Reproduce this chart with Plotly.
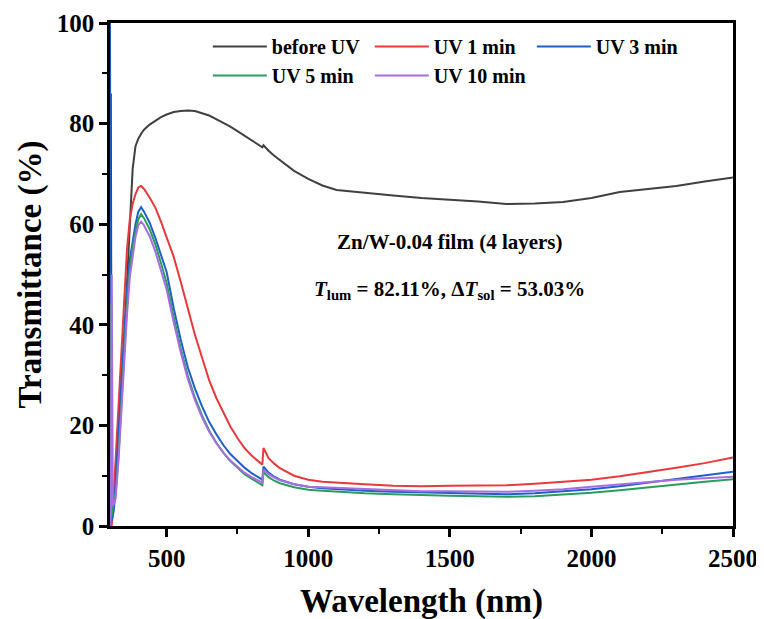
import plotly.graph_objects as go

wavelength = [300, 303, 306, 310, 315, 320, 330, 340, 350, 360, 370, 380, 390, 400, 410, 420,
              440, 460, 480, 500, 525, 550, 575, 600, 625, 650, 675, 700, 725, 750, 775, 800,
              825, 838, 842, 860, 880, 900, 950, 1000, 1050, 1100, 1200, 1300, 1400, 1500, 1600,
              1700, 1800, 1900, 2000, 2100, 2200, 2300, 2400, 2500]

before_uv = [2, 86, 3, 2, 5, 10, 19, 28, 37, 48, 60, 71, 75.5, 77, 78, 78.8,
             79.8, 80.6, 81.3, 81.8, 82.3, 82.5, 82.6, 82.5, 82.1, 81.6, 80.9, 80.2, 79.4, 78.5, 77.6, 76.7,
             75.9, 75.3, 75.7, 74.6, 73.6, 72.7, 70.6, 69.0, 67.7, 66.8, 66.2, 65.7, 65.2, 64.9, 64.5,
             64.0, 64.1, 64.4, 65.2, 66.4, 67.0, 67.6, 68.5, 69.3]

uv_1min = [0, 0, 0, 3, 8, 14, 24, 34, 45, 55, 61, 64, 66, 67.3, 67.6, 67.0,
           65.3, 63.3, 60.5, 57.5, 53.5, 48.5, 43.0, 38.0, 33.5, 29.0, 25.5, 22.5, 19.8, 17.5, 15.5, 14.0,
           12.7, 12.2, 15.5, 13.5, 12.4, 11.5, 10.0, 9.2, 8.8, 8.6, 8.3, 8.0, 7.9, 8.0, 8.0,
           8.1, 8.4, 8.8, 9.2, 9.9, 10.7, 11.6, 12.5, 13.6]

uv_3min = [100, 2, 1, 2, 4, 8, 18, 28, 38, 47, 53, 57, 60, 62.5, 63.4, 62.5,
           60.3, 57.3, 54.0, 50.5, 43.3, 37.0, 31.5, 27.3, 23.8, 20.7, 18.3, 16.1, 14.3, 12.9, 11.6, 10.5,
           9.6, 9.2, 11.8, 10.6, 9.8, 9.2, 8.3, 7.8, 7.5, 7.3, 7.0, 6.8, 6.7, 6.6, 6.4,
           6.3, 6.5, 6.9, 7.3, 7.9, 8.6, 9.3, 10.0, 10.8]

uv_5min = [0, 44, 2, 4, 5.5, 6.5, 14, 24, 34, 44, 51, 55.5, 58.5, 61, 62, 61.2,
           59.0, 56.0, 52.3, 48.3, 41.5, 35.3, 29.8, 25.5, 22.0, 19.0, 16.6, 14.6, 12.9, 11.5, 10.3, 9.4,
           8.5, 8.1, 10.7, 9.7, 9.0, 8.5, 7.7, 7.2, 7.0, 6.8, 6.5, 6.3, 6.1, 6.0, 5.9,
           5.8, 5.9, 6.2, 6.6, 7.1, 7.7, 8.3, 8.8, 9.3]

uv_10min = [0, 2, 50, 4, 4.5, 5.5, 13, 23, 33, 42, 49.5, 54, 57.5, 59.8, 60.5, 59.8,
            57.6, 54.6, 51.0, 47.0, 40.5, 34.5, 29.2, 25.0, 21.6, 18.8, 16.5, 14.6, 13.0, 11.7, 10.6, 9.7,
            8.9, 8.6, 11.2, 10.3, 9.6, 9.1, 8.3, 7.8, 7.7, 7.6, 7.3, 7.1, 6.9, 6.9, 6.8,
            6.8, 7.0, 7.3, 7.8, 8.3, 8.8, 9.2, 9.5, 9.8]

series = [
    ("before UV", before_uv, "#404040"),
    ("UV 1 min", uv_1min, "#e8393d"),
    ("UV 3 min", uv_3min, "#1f5fc9"),
    ("UV 5 min", uv_5min, "#2a9d5c"),
    ("UV 10 min", uv_10min, "#a66ee0"),
]

FONT = "Liberation Serif"

fig = go.Figure()
for name, vals, color in series:
    fig.add_trace(go.Scatter(x=wavelength, y=vals, mode="lines", name=name,
                             line=dict(color=color, width=2)))

fig.update_layout(
    width=764, height=619,
    paper_bgcolor="white", plot_bgcolor="white",
    margin=dict(l=102, r=39, t=15, b=101),
    font=dict(family=FONT, color="black"),
    showlegend=True,
    legend=dict(orientation="h", x=0.157, xanchor="left", y=0.992, yanchor="top",
                font=dict(family=FONT, size=20, weight="bold", color="black"),
                bgcolor="rgba(0,0,0,0)", entrywidth=93, entrywidthmode="pixels",
                itemwidth=54, tracegroupgap=0),
    annotations=[
        dict(text="Zn/W-0.04 film (4 layers)", x=0.545, y=0.565, xref="paper", yref="paper",
             showarrow=False, font=dict(family=FONT, size=21, weight="bold", color="black")),
        dict(text="<i>T</i><sub>lum</sub> = 82.11%, Δ<i>T</i><sub>sol</sub> = 53.03%",
             x=0.545, y=0.47, xref="paper", yref="paper",
             showarrow=False, font=dict(family=FONT, size=21, weight="bold", color="black")),
    ],
)

fig.update_xaxes(range=[300, 2500], dtick=500, tick0=0, showgrid=False, zeroline=False,
                 automargin=False,
                 showline=True, linecolor="black", linewidth=2.5, mirror=True,
                 ticks="outside", ticklen=8, tickwidth=2.5, tickcolor="black",
                 tickfont=dict(family=FONT, size=25, weight="bold", color="black"),
                 minor=dict(dtick=250, tick0=0, ticks="outside", ticklen=5, tickwidth=2, tickcolor="black"),
                 title=dict(text="Wavelength (nm)", standoff=19,
                            font=dict(family=FONT, size=33, weight="bold", color="black")))
fig.update_yaxes(range=[0, 100], dtick=20, tick0=0, showgrid=False, zeroline=False,
                 automargin=False,
                 showline=True, linecolor="black", linewidth=2.5, mirror=True,
                 ticks="outside", ticklen=8, tickwidth=2.5, tickcolor="black",
                 tickfont=dict(family=FONT, size=25, weight="bold", color="black"),
                 minor=dict(dtick=10, tick0=0, ticks="outside", ticklen=5, tickwidth=2, tickcolor="black"),
                 title=dict(text="Transmittance (%)", standoff=6,
                            font=dict(family=FONT, size=33, weight="bold", color="black")))

fig.write_html("out.html")
